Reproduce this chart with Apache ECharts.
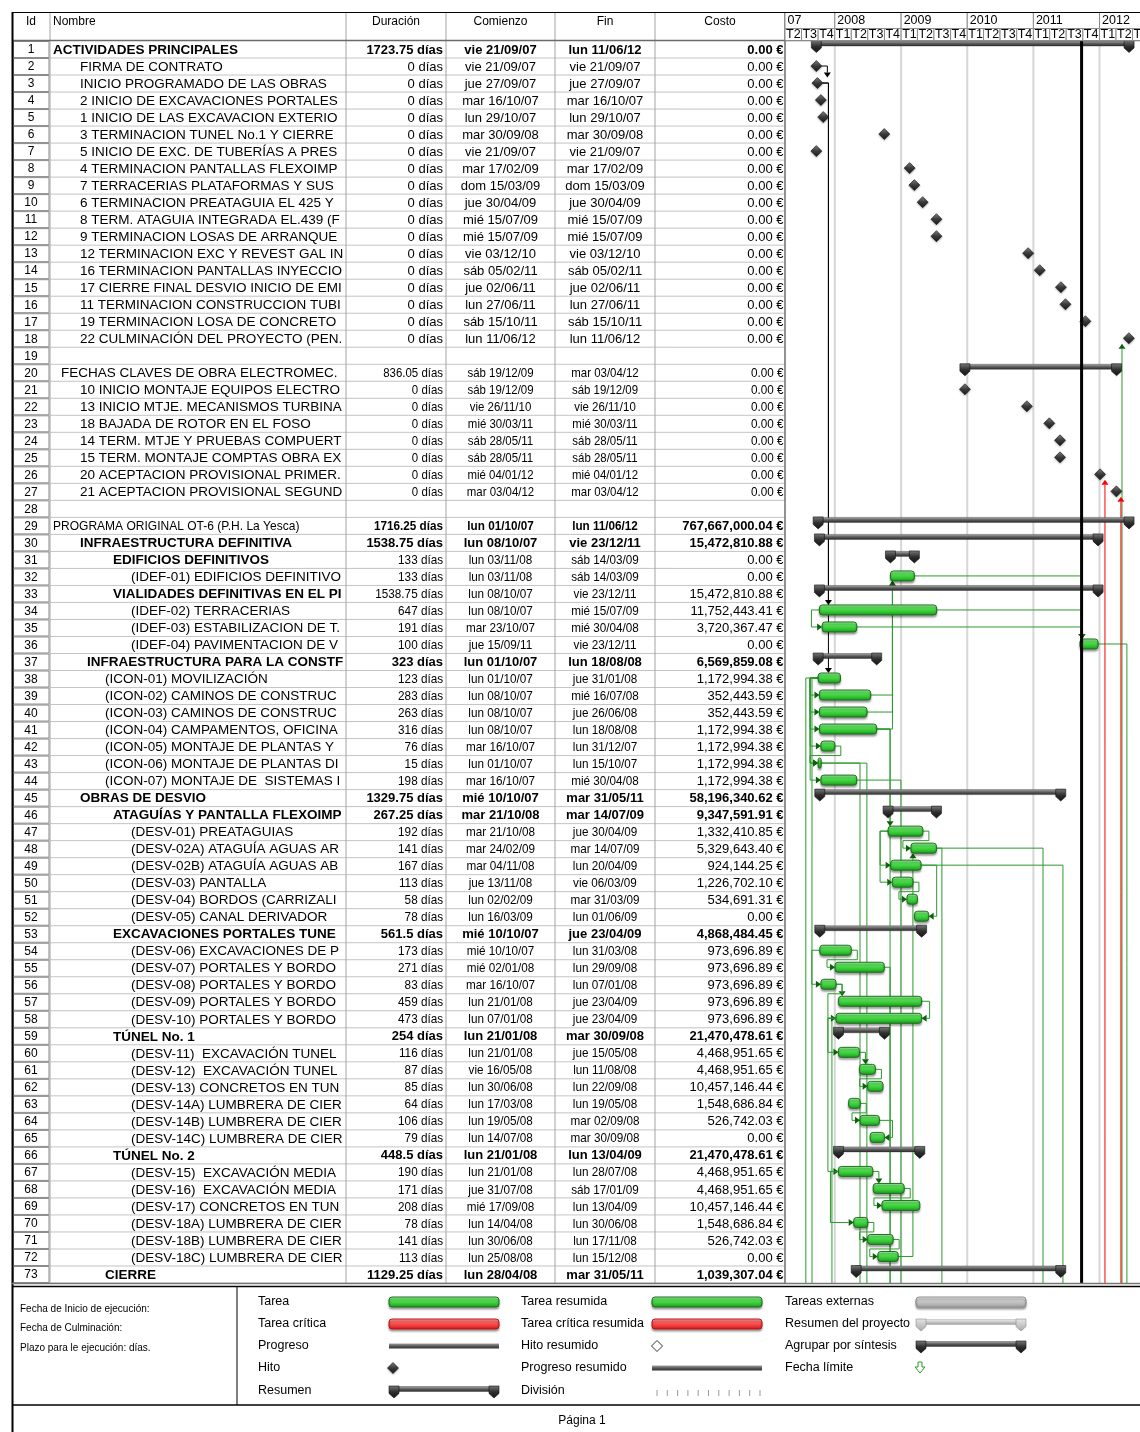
<!DOCTYPE html>
<html><head><meta charset="utf-8">
<script src="https://cdn.jsdelivr.net/npm/echarts@6.0.0/dist/echarts.min.js"></script>
<style>html,body{margin:0;padding:0;background:#fff}#chart{width:1140px;height:1432px}</style>
</head><body><div id="chart"></div>
<script>
// ---------------- DATA ----------------
const ids = [1,2,3,4,5,6,7,8,9,10,11,12,13,14,15,16,17,18,19,20,21,22,23,24,25,26,27,28,29,30,31,32,33,34,35,36,37,38,39,40,41,42,43,44,45,46,47,48,49,50,51,52,53,54,55,56,57,58,59,60,61,62,63,64,65,66,67,68,69,70,71,72,73];
const names = [
'ACTIVIDADES PRINCIPALES','FIRMA DE CONTRATO','INICIO PROGRAMADO DE LAS OBRAS','2 INICIO DE EXCAVACIONES PORTALES','1 INICIO DE LAS EXCAVACION EXTERIOR',
'3 TERMINACION TUNEL No.1 Y CIERRE F','5 INICIO DE EXC. DE TUBERÍAS A PRESIÓN','4 TERMINACION PANTALLAS FLEXOIMP','7 TERRACERIAS PLATAFORMAS Y SUS','6 TERMINACION PREATAGUIA EL 425 Y',
'8 TERM. ATAGUIA INTEGRADA EL.439 (F','9 TERMINACION LOSAS DE ARRANQUE','12 TERMINACION EXC Y REVEST GAL IN','16 TERMINACION PANTALLAS INYECCIO','17 CIERRE FINAL DESVIO INICIO DE EMI',
'11 TERMINACION CONSTRUCCION TUBI','19 TERMINACION LOSA DE CONCRETO','22 CULMINACIÓN DEL PROYECTO (PEN.','','FECHAS CLAVES DE OBRA ELECTROMEC.',
'10 INICIO MONTAJE EQUIPOS ELECTRO','13 INICIO MTJE. MECANISMOS TURBINA','18 BAJADA DE ROTOR EN EL FOSO','14 TERM. MTJE Y PRUEBAS COMPUERT','15 TERM. MONTAJE COMPTAS OBRA EX',
'20 ACEPTACION PROVISIONAL PRIMER.','21 ACEPTACION PROVISIONAL SEGUND','','PROGRAMA ORIGINAL OT-6 (P.H. La Yesca)','INFRAESTRUCTURA DEFINITIVA',
'EDIFICIOS DEFINITIVOS','(IDEF-01) EDIFICIOS DEFINITIVOS','VIALIDADES DEFINITIVAS EN EL PI','(IDEF-02) TERRACERIAS','(IDEF-03) ESTABILIZACION DE T.',
'(IDEF-04) PAVIMENTACION DE V','INFRAESTRUCTURA PARA LA CONSTF','(ICON-01) MOVILIZACIÓN','(ICON-02) CAMINOS DE CONSTRUCC','(ICON-03) CAMINOS DE CONSTRUCC',
'(ICON-04) CAMPAMENTOS, OFICINA','(ICON-05) MONTAJE DE PLANTAS Y','(ICON-06) MONTAJE DE PLANTAS DI','(ICON-07) MONTAJE DE  SISTEMAS I','OBRAS DE DESVIO',
'ATAGUÍAS Y PANTALLA FLEXOIMP','(DESV-01) PREATAGUIAS','(DESV-02A) ATAGUÍA AGUAS AR','(DESV-02B) ATAGUÍA AGUAS AB','(DESV-03) PANTALLA',
'(DESV-04) BORDOS (CARRIZALI','(DESV-05) CANAL DERIVADOR','EXCAVACIONES PORTALES TUNEL','(DESV-06) EXCAVACIONES DE P','(DESV-07) PORTALES Y BORDOS',
'(DESV-08) PORTALES Y BORDOS','(DESV-09) PORTALES Y BORDOS','(DESV-10) PORTALES Y BORDOS','TÚNEL No. 1','(DESV-11)  EXCAVACIÓN TUNEL',
'(DESV-12)  EXCAVACIÓN TUNEL','(DESV-13) CONCRETOS EN TUN','(DESV-14A) LUMBRERA DE CIER','(DESV-14B) LUMBRERA DE CIER','(DESV-14C) LUMBRERA DE CIER',
'TÚNEL No. 2','(DESV-15)  EXCAVACIÓN MEDIA','(DESV-16)  EXCAVACIÓN MEDIA','(DESV-17) CONCRETOS EN TUN','(DESV-18A) LUMBRERA DE CIER',
'(DESV-18B) LUMBRERA DE CIER','(DESV-18C) LUMBRERA DE CIER','CIERRE'];
const durations = [
'1723.75 días','0 días','0 días','0 días','0 días','0 días','0 días','0 días','0 días','0 días',
'0 días','0 días','0 días','0 días','0 días','0 días','0 días','0 días','','836.05 días',
'0 días','0 días','0 días','0 días','0 días','0 días','0 días','','1716.25 días','1538.75 días',
'133 días','133 días','1538.75 días','647 días','191 días','100 días','323 días','123 días','283 días','263 días',
'316 días','76 días','15 días','198 días','1329.75 días','267.25 días','192 días','141 días','167 días','113 días',
'58 días','78 días','561.5 días','173 días','271 días','83 días','459 días','473 días','254 días','116 días',
'87 días','85 días','64 días','106 días','79 días','448.5 días','190 días','171 días','208 días','78 días',
'141 días','113 días','1129.25 días'];
const starts = [
'vie 21/09/07','vie 21/09/07','jue 27/09/07','mar 16/10/07','lun 29/10/07','mar 30/09/08','vie 21/09/07','mar 17/02/09','dom 15/03/09','jue 30/04/09',
'mié 15/07/09','mié 15/07/09','vie 03/12/10','sáb 05/02/11','jue 02/06/11','lun 27/06/11','sáb 15/10/11','lun 11/06/12','','sáb 19/12/09',
'sáb 19/12/09','vie 26/11/10','mié 30/03/11','sáb 28/05/11','sáb 28/05/11','mié 04/01/12','mar 03/04/12','','lun 01/10/07','lun 08/10/07',
'lun 03/11/08','lun 03/11/08','lun 08/10/07','lun 08/10/07','mar 23/10/07','jue 15/09/11','lun 01/10/07','lun 01/10/07','lun 08/10/07','lun 08/10/07',
'lun 08/10/07','mar 16/10/07','lun 01/10/07','mar 16/10/07','mié 10/10/07','mar 21/10/08','mar 21/10/08','mar 24/02/09','mar 04/11/08','jue 13/11/08',
'lun 02/02/09','lun 16/03/09','mié 10/10/07','mié 10/10/07','mié 02/01/08','mar 16/10/07','lun 21/01/08','lun 07/01/08','lun 21/01/08','lun 21/01/08',
'vie 16/05/08','lun 30/06/08','lun 17/03/08','lun 19/05/08','lun 14/07/08','lun 21/01/08','lun 21/01/08','jue 31/07/08','mié 17/09/08','lun 14/04/08',
'lun 30/06/08','lun 25/08/08','lun 28/04/08'];
const ends = [
'lun 11/06/12','vie 21/09/07','jue 27/09/07','mar 16/10/07','lun 29/10/07','mar 30/09/08','vie 21/09/07','mar 17/02/09','dom 15/03/09','jue 30/04/09',
'mié 15/07/09','mié 15/07/09','vie 03/12/10','sáb 05/02/11','jue 02/06/11','lun 27/06/11','sáb 15/10/11','lun 11/06/12','','mar 03/04/12',
'sáb 19/12/09','vie 26/11/10','mié 30/03/11','sáb 28/05/11','sáb 28/05/11','mié 04/01/12','mar 03/04/12','','lun 11/06/12','vie 23/12/11',
'sáb 14/03/09','sáb 14/03/09','vie 23/12/11','mié 15/07/09','mié 30/04/08','vie 23/12/11','lun 18/08/08','jue 31/01/08','mié 16/07/08','jue 26/06/08',
'lun 18/08/08','lun 31/12/07','lun 15/10/07','mié 30/04/08','mar 31/05/11','mar 14/07/09','jue 30/04/09','mar 14/07/09','lun 20/04/09','vie 06/03/09',
'mar 31/03/09','lun 01/06/09','jue 23/04/09','lun 31/03/08','lun 29/09/08','lun 07/01/08','jue 23/04/09','jue 23/04/09','mar 30/09/08','jue 15/05/08',
'lun 11/08/08','lun 22/09/08','lun 19/05/08','mar 02/09/08','mar 30/09/08','lun 13/04/09','lun 28/07/08','sáb 17/01/09','lun 13/04/09','lun 30/06/08',
'lun 17/11/08','lun 15/12/08','mar 31/05/11'];
const costs = [
'0.00 €','0.00 €','0.00 €','0.00 €','0.00 €','0.00 €','0.00 €','0.00 €','0.00 €','0.00 €',
'0.00 €','0.00 €','0.00 €','0.00 €','0.00 €','0.00 €','0.00 €','0.00 €','','0.00 €',
'0.00 €','0.00 €','0.00 €','0.00 €','0.00 €','0.00 €','0.00 €','','767,667,000.04 €','15,472,810.88 €',
'0.00 €','0.00 €','15,472,810.88 €','11,752,443.41 €','3,720,367.47 €','0.00 €','6,569,859.08 €','1,172,994.38 €','352,443.59 €','352,443.59 €',
'1,172,994.38 €','1,172,994.38 €','1,172,994.38 €','1,172,994.38 €','58,196,340.62 €','9,347,591.91 €','1,332,410.85 €','5,329,643.40 €','924,144.25 €','1,226,702.10 €',
'534,691.31 €','0.00 €','4,868,484.45 €','973,696.89 €','973,696.89 €','973,696.89 €','973,696.89 €','973,696.89 €','21,470,478.61 €','4,468,951.65 €',
'4,468,951.65 €','10,457,146.44 €','1,548,686.84 €','526,742.03 €','0.00 €','21,470,478.61 €','4,468,951.65 €','4,468,951.65 €','10,457,146.44 €','1,548,686.84 €',
'526,742.03 €','0.00 €','1,039,307.04 €'];
// S = summary, M = milestone, T = task, '' = empty row
const kinds = [
'S','M','M','M','M','M','M','M','M','M',
'M','M','M','M','M','M','M','M','','S',
'M','M','M','M','M','M','M','','S','S',
'S','T','S','T','T','T','S','T','T','T',
'T','T','T','T','S','S','T','T','T','T',
'T','T','S','T','T','T','T','T','S','T',
'T','T','T','T','T','S','T','T','T','T',
'T','T','S'];
// outline level code (mapped to an indentation in the renderer)
const levels = [
0,2,2,2,2,2,2,2,2,2,
2,2,2,2,2,2,2,2,2,1,
2,2,2,2,2,2,2,2,0,2,
5,6,5,6,6,6,3,4,4,4,
4,4,4,4,2,5,6,6,6,6,
6,6,5,6,6,6,6,6,5,6,
6,6,6,6,6,5,6,6,6,6,
6,6,4];
// text-style code per row
const tstyle = [
'A','B','B','B','B','B','B','B','B','B',
'B','B','B','B','B','B','B','B','B','C',
'C','C','C','C','C','C','C','C','D','E',
'F','G','F','G','G','G','E','G','G','G',
'G','G','G','G','E','E','G','G','G','G',
'G','G','E','G','G','G','G','G','E','G',
'G','G','G','G','G','E','G','G','G','G',
'G','G','E'];
const headers = ['Id','Nombre','Duración','Comienzo','Fin','Costo'];
const years = ['07','2008','2009','2010','2011','2012'];
const quarterLabels = ['T1','T2','T3','T4'];
const statusDate = '2011-09-24';
// dependency links [predecessor id, successor id, type]
const links = [
[2,3,'FS'],[3,34,'FS'],[3,38,'FS'],
[34,35,'SS'],[39,32,'FS'],[40,32,'FS'],[41,32,'FS'],[41,47,'FS'],
[32,36,'FS'],[34,36,'FS'],[35,36,'FS'],
[38,39,'SS'],[38,40,'SS'],[38,41,'SS'],[38,42,'SS'],[38,43,'SS'],[38,44,'SS'],[42,43,'FS'],
[47,48,'FS'],[47,49,'SS'],[47,50,'SS'],[50,51,'FS'],[49,52,'FF'],[72,48,'FS'],
[54,55,'FS'],[54,56,'SS'],[56,57,'FS'],[56,58,'FS'],[57,58,'FF'],
[58,60,'SS'],[60,61,'FS'],[61,62,'FS'],[63,64,'FS'],[64,65,'FF'],
[58,67,'SS'],[67,68,'FS'],[68,69,'FS'],[67,70,'SS'],[70,71,'FS'],[71,72,'FS']];
// links leaving the page downwards [predecessor id, date of the vertical, from End/Start]
const offDown = [
[36,'2012-05-31','E'],[48,'2009-08-14','E'],[48,'2011-02-23','E'],[49,'2011-06-13','E'],
[44,'2008-12-31','E'],[41,'2008-11-01','E'],[55,'2008-11-01','E'],[43,'2008-05-19','E'],[43,'2008-06-26','E'],
[38,'2007-07-25','S'],[38,'2007-08-28','S'],[58,'2007-12-16','S']];
// links arriving from below the page [successor id, date of the vertical, critical?]
const offUp = [[18,'2012-05-04',false],[26,'2012-01-31',true],[27,'2012-04-28',true]];
const legendCols = [
['Tarea','Tarea crítica','Progreso','Hito','Resumen'],
['Tarea resumida','Tarea crítica resumida','Hito resumido','Progreso resumido','División'],
['Tareas externas','Resumen del proyecto','Agrupar por síntesis','Fecha límite']];
const legendNotes = ['Fecha de Inicio de ejecución:','Fecha de Culminación:','Plazo para le ejecución: días.'];
const footer = 'Página 1';

// ---------------- HELPERS ----------------
const FONT = '"Liberation Sans", Arial, Helvetica, sans-serif';
const DAY = 86400000;
const parseD = s => { const m = /(\d\d)\/(\d\d)\/(\d\d)/.exec(s || ''); return m ? Date.UTC(2000 + +m[3], +m[2] - 1, +m[1]) : null; };
const iso = s => Date.parse(s + 'T00:00:00Z');
const startTs = starts.map(parseD), endTs = ends.map(parseD);
const T0 = Date.UTC(2007, 3, 1);
const PXDAY = 0.18118, GANTT_W = 355;
const T1 = T0 + GANTT_W / PXDAY * DAY;
const rowCats = ids.map(String);
const tableCols = [0, 38, 334, 434, 543, 643, 773];
const levelX = [41, 49, 68, 75, 93, 101, 119];
const TS = {
  A:{nb:1,ns:1,vb:1,vs:1,cb:1,cs:1}, B:{nb:0,ns:1,vb:0,vs:1,cb:0,cs:1},
  C:{nb:0,ns:1,vb:0,vs:0.88,cb:0,cs:0.9}, D:{nb:0,ns:0.89,vb:1,vs:0.9,cb:1,cs:1},
  E:{nb:1,ns:1,vb:1,vs:1,cb:1,cs:1}, F:{nb:1,ns:1,vb:0,vs:0.9,cb:0,cs:1},
  G:{nb:0,ns:1,vb:0,vs:0.9,cb:0,cs:1}};
const LG = (stops) => new echarts.graphic.LinearGradient(0,0,0,1, stops.map((c,i)=>({offset:i/(stops.length-1), color:c})));
const GREEN = () => LG(['#a6f5a6','#55e055','#33c733','#1c8f1c']);
const RED = () => LG(['#ffb0b0','#ff6060','#f03a3a','#c01818']);
const LINK_G = '#2c9a2c', ARROW_G = '#0c620c';

function txt(x, y, text, align, bold, scale, size, width) {
  const st = {text:text, x:0, y:0, align:align, verticalAlign:'middle', fill:'#000', font:(bold?'bold ':'') + size + 'px ' + FONT};
  if (width) { st.width = width / scale; st.overflow = 'truncate'; st.ellipsis = ''; }
  return {type:'text', x:x, y:y, scaleX:scale, style:st, silent:true};
}
function taskEls(xs, xe, yc, fill, stroke) {
  return [{type:'rect', shape:{x:xs, y:yc-6, width:Math.max(xe-xs,3), height:10, r:3},
    style:{fill:fill, stroke:stroke, lineWidth:1, shadowBlur:2, shadowOffsetY:2, shadowColor:'rgba(0,0,0,0.35)'}}];
}
function diamondEl(x, yc, hollow) {
  return {type:'polygon', shape:{points:[[x,yc-6],[x+5.5,yc-0.5],[x,yc+5],[x-5.5,yc-0.5]]},
    style: hollow ? {fill:'#fff', stroke:'#333', lineWidth:1} :
      {fill:LG(['#8a8a8a','#3a3a3a','#1a1a1a']), stroke:'#111', lineWidth:0.6, shadowBlur:2, shadowOffsetY:1, shadowColor:'rgba(0,0,0,0.3)'}};
}
function summaryEls(xs, xe, yc, light) {
  const barFill = light ? LG(['#f0f0f0','#c8c8c8','#a0a0a0']) : LG(['#b0b0b0','#5c5c5c','#2a2a2a']);
  const capFill = light ? LG(['#e6e6e6','#a8a8a8']) : LG(['#7a7a7a','#2e2e2e','#141414']);
  const cap = x => ({type:'polygon', shape:{points:[[x-5,yc-9],[x+5,yc-9],[x+5,yc-1.5],[x,yc+3],[x-5,yc-1.5]]},
    style:{fill:capFill, stroke:light?'#8a8a8a':'#111', lineWidth:0.6}});
  return [{type:'rect', shape:{x:xs, y:yc-8.5, width:Math.max(xe-xs,0), height:5}, style:{fill:barFill, stroke:light?'#999':'#333', lineWidth:0.4}}, cap(xs), cap(xe)];
}
function arrow(dir, x, y, fill) {
  let p;
  if (dir === 'd') p = [[x-3.5,y-5],[x+3.5,y-5],[x,y]];
  else if (dir === 'u') p = [[x-3.5,y+5],[x+3.5,y+5],[x,y]];
  else if (dir === 'r') p = [[x-5,y-3.5],[x-5,y+3.5],[x,y]];
  else p = [[x+5,y-3.5],[x+5,y+3.5],[x,y]];
  return {type:'polygon', shape:{points:p}, style:{fill:fill}};
}
function pl(points, stroke) { return {type:'polyline', shape:{points:points}, style:{stroke:stroke, lineWidth:1, fill:null}}; }

function geo(api, r) {
  const k = kinds[r];
  const p0 = api.coord([startTs[r], r]);
  const yc = p0[1];
  if (k === 'M') return {k:k, xs:p0[0]-5, xe:p0[0]+5, xc:p0[0], y:yc-0.5, top:yc-6, bot:yc+5, yc:yc};
  const x1 = api.coord([endTs[r] + DAY, r])[0];
  if (k === 'S') return {k:k, xs:p0[0], xe:x1, xc:p0[0], y:yc-6, top:yc-9, bot:yc+3, yc:yc};
  return {k:k, xs:p0[0], xe:x1, xc:p0[0], y:yc-1, top:yc-6, bot:yc+4, yc:yc};
}

// ---------------- RENDERERS ----------------
function renderYearLines(params, api) {
  const cs = params.coordSys; const x = api.coord([api.value(0), 0])[0];
  return {type:'line', shape:{x1:x, y1:cs.y, x2:x, y2:cs.y+cs.height}, style:{stroke:'#d6d6d6', lineWidth:2}};
}
function renderStatus(params, api) {
  const cs = params.coordSys; const x = api.coord([api.value(0), 0])[0];
  return {type:'line', shape:{x1:x, y1:cs.y, x2:x, y2:cs.y+cs.height}, style:{stroke:'#000', lineWidth:3}};
}
function renderBar(params, api) {
  const i = api.value(2), k = kinds[i];
  const p0 = api.coord([api.value(0), i]), p1 = api.coord([api.value(1), i]);
  const yc = p0[1];
  if (k === 'T') return {type:'group', children:taskEls(p0[0], p1[0], yc, GREEN(), '#1d6e1d')};
  if (k === 'M') return diamondEl(p0[0], yc, false);
  return {type:'group', children:summaryEls(p0[0], p1[0], yc, false)};
}
function renderLink(params, api) {
  const L = links[api.value(2)];
  const pr = L[0]-1, sr = L[1]-1, type = L[2];
  const P = geo(api, pr), S = geo(api, sr);
  const h = api.size([0,1])[1];
  const line = P.k === 'M' ? '#000' : LINK_G, af = P.k === 'M' ? '#000' : ARROW_G;
  const below = sr > pr;
  const ch = [];
  if (type === 'SS') {
    const xl = Math.min(P.xs, S.xs) - 8;
    ch.push(pl([[P.xs,P.y],[xl,P.y],[xl,S.y],[S.xs-5,S.y]], line)); ch.push(arrow('r', S.xs, S.y, af));
  } else if (type === 'FF') {
    const xr = Math.max(P.xe, S.xe) + 8;
    ch.push(pl([[P.xe,P.y],[xr,P.y],[xr,S.y],[S.xe+5,S.y]], line)); ch.push(arrow('l', S.xe, S.y, af));
  } else {
    const after = P.k === 'M' ? startTs[sr] >= startTs[pr] : startTs[sr] > endTs[pr];
    if (after) {
      const xv = Math.max(P.xe + 6, (S.k === 'M' ? S.xc : S.xs) + 2);
      if (below) { ch.push(pl([[P.xe,P.y],[xv,P.y],[xv,S.top-5]], line)); ch.push(arrow('d', xv, S.top, af)); }
      else { ch.push(pl([[P.xe,P.y],[xv,P.y],[xv,S.bot+5]], line)); ch.push(arrow('u', xv, S.bot, af)); }
    } else {
      const xr = P.xe + 6, yb = below ? P.yc + h/2 : P.yc - h/2, xl = S.xs - 8;
      ch.push(pl([[P.xe,P.y],[xr,P.y],[xr,yb],[xl,yb],[xl,S.y],[S.xs-5,S.y]], line)); ch.push(arrow('r', S.xs, S.y, af));
    }
  }
  return {type:'group', children:ch};
}
function renderOffDown(params, api) {
  const L = offDown[api.value(2)]; const r = L[0]-1;
  const P = geo(api, r); const cs = params.coordSys;
  const xd = api.coord([iso(L[1]), r])[0];
  const x0 = L[2] === 'S' ? P.xs : P.xe;
  return pl([[x0,P.y],[xd,P.y],[xd,cs.y+cs.height]], LINK_G);
}
function renderOffUp(params, api) {
  const L = offUp[api.value(2)]; const r = L[0]-1;
  const S = geo(api, r); const cs = params.coordSys;
  const xd = api.coord([iso(L[1]), r])[0];
  const c = L[2] ? '#ff0000' : LINK_G, a = L[2] ? '#ff0000' : ARROW_G;
  return {type:'group', children:[pl([[xd,cs.y+cs.height],[xd,S.bot+5]], c), arrow('u', xd, S.bot, a)]};
}
function renderTimeHeader(params, api) {
  const cs = params.coordSys;
  const kind = api.value(2), idx = api.value(3);
  let x0 = api.coord([api.value(0), 0])[0], x1 = api.coord([api.value(1), 0])[0];
  x0 = Math.max(x0, cs.x); x1 = Math.min(x1, cs.x + cs.width + 20);
  const ch = [];
  if (kind === 0) {
    ch.push({type:'rect', shape:{x:x0, y:12.5, width:x1-x0, height:16}, style:{fill:'#fff', stroke:'#8c8c8c', lineWidth:1}});
    ch.push(txt(x0+2.5, 21, years[idx], 'left', false, 1, 12.5));
  } else {
    ch.push({type:'rect', shape:{x:x0, y:28.5, width:x1-x0, height:12}, style:{fill:'#fff', stroke:'#8c8c8c', lineWidth:1}});
    ch.push(txt(x0+1, 35, quarterLabels[idx], 'left', false, 1, 12.5));
  }
  return {type:'group', children:ch};
}
function renderRow(params, api) {
  const i = api.value(1);
  const yc = api.coord([0, i])[1] + 0.5;
  const h = api.size([0,1])[1];
  const X = u => api.coord([u, i])[0];
  const top = yc - 0.5 - h/2, bot = yc - 0.5 + h/2;
  const s = TS[tstyle[i]];
  const ch = [];
  ch.push({type:'rect', shape:{x:X(0)+1.5, y:top+0.5, width:X(38)-X(0)-2.5, height:h-1}, style:{fill:'#fff', stroke:'#8a8a8a', lineWidth:1}});
  ch.push(txt((X(0)+X(38))/2, yc, String(ids[i]), 'center', false, 1, 12));
  ch.push({type:'line', shape:{x1:X(38), y1:bot, x2:X(773), y2:bot}, style:{stroke:'#c4c4c4', lineWidth:1}});
  if (names[i]) { const nx = X(levelX[levels[i]]); ch.push(txt(nx, yc, names[i], 'left', s.nb, s.ns, 13.5, X(334) - nx - 1)); }
  if (durations[i]) ch.push(txt(X(434)-3, yc, durations[i], 'right', s.vb, s.vs, 13));
  if (starts[i]) ch.push(txt((X(434)+X(543))/2, yc, starts[i], 'center', s.vb, s.vs, 13));
  if (ends[i]) ch.push(txt((X(543)+X(643))/2, yc, ends[i], 'center', s.vb, s.vs, 13));
  if (costs[i]) ch.push(txt(X(773)-1.5, yc, costs[i], 'right', s.cb, s.cs, 13));
  return {type:'group', children:ch};
}
function renderFrame(params, api) {
  const cs = params.coordSys;
  const X = u => api.coord([u, 0])[0];
  const ch = [];
  const hy = cs.y - 19;
  tableCols.slice(1).forEach((u, j) => {
    const last = j === tableCols.length - 2;
    ch.push({type:'line', shape:{x1:X(u), y1:12, x2:X(u), y2:cs.y+cs.height}, style:{stroke:last?'#6e6e6e':'#a4a4a4', lineWidth:last?1.5:1}});
  });
  ch.push({type:'line', shape:{x1:X(0), y1:cs.y-0.5, x2:1140, y2:cs.y-0.5}, style:{stroke:'#6a6a6a', lineWidth:1.5}});
  ch.push(txt((X(0)+X(38))/2, hy, headers[0], 'center', false, 1, 12));
  ch.push(txt(X(41), hy, headers[1], 'left', false, 1, 12));
  for (let c = 2; c < 6; c++) ch.push(txt((X(tableCols[c])+X(tableCols[c+1]))/2, hy, headers[c], 'center', false, 1, 12));
  return {type:'group', children:ch};
}

// ---------------- SERIES DATA ----------------
const barData = [];
ids.forEach((id, i) => { if (kinds[i]) barData.push([startTs[i], kinds[i] === 'M' ? startTs[i] : endTs[i] + DAY, i]); });
const headerData = [];
years.forEach((y, yi) => {
  const yr = y.length === 2 ? 2000 + +y : +y;
  headerData.push([Math.max(Date.UTC(yr,0,1), T0), Date.UTC(yr+1,0,1), 0, yi, 0]);
  quarterLabels.forEach((q, qi) => {
    const a = Date.UTC(yr, qi*3, 1), b = Date.UTC(yr, qi*3+3, 1);
    if (b > T0 && a < T1) headerData.push([a, b, 1, qi, 0]);
  });
});
const yearLineData = years.slice(1).map(y => [Date.UTC(+y,0,1), 0]);

// ---------------- LEGEND / PAGE GRAPHICS ----------------
const G = [];
const gl = (x1,y1,x2,y2,stroke,w) => G.push({type:'line', shape:{x1,y1,x2,y2}, style:{stroke, lineWidth:w}, silent:true, z:100});
const gt = (x,y,t,size,align) => G.push({type:'text', x:x, y:y, style:{text:t, font:size+'px '+FONT, fill:'#000', align:align||'left', verticalAlign:'middle'}, silent:true, z:100});
gl(12,12.5,1140,12.5,'#000',1);
gl(12.5,12,12.5,1432,'#000',2);
gl(12,1283.5,1140,1283.5,'#777',1.5);
gl(12,1286.5,1140,1286.5,'#000',1.5);
gl(12,1405,1140,1405,'#000',1.5);
gl(237,1286,237,1405,'#000',1);
legendNotes.forEach((t,j) => gt(20, 1309 + j*19.5, t, 10));
const rowsY = [1302, 1324, 1346, 1368, 1391];
const colLX = [258, 521, 785], colSX = [389, 652, 916];
legendCols.forEach((col, c) => col.forEach((t, j) => gt(colLX[c], rowsY[j], t, 12.5)));
const addGroup = (children) => G.push({type:'group', children:children, silent:true, z:100});
addGroup(taskEls(389, 499, rowsY[0]+1, GREEN(), '#1d6e1d'));
addGroup(taskEls(389, 499, rowsY[1]+1, RED(), '#c01010'));
addGroup([{type:'rect', shape:{x:389, y:rowsY[2]-2.5, width:110, height:5}, style:{fill:LG(['#a0a0a0','#5a5a5a','#303030'])}}]);
addGroup([diamondEl(393, rowsY[3]+0.5, false)]);
addGroup(summaryEls(394, 494, rowsY[4]+4, false));
addGroup(taskEls(652, 762, rowsY[0]+1, GREEN(), '#1d6e1d'));
addGroup(taskEls(652, 762, rowsY[1]+1, RED(), '#c01010'));
addGroup([diamondEl(657, rowsY[2]+0.5, true)]);
addGroup([{type:'rect', shape:{x:652, y:rowsY[3]-2.5, width:110, height:5}, style:{fill:LG(['#a0a0a0','#5a5a5a','#303030'])}}]);
const ticks = [];
for (let k = 0; k < 11; k++) ticks.push({type:'line', shape:{x1:657+k*10.3, y1:rowsY[4]-1, x2:657+k*10.3, y2:rowsY[4]+5}, style:{stroke:'#999', lineWidth:1}});
addGroup(ticks);
addGroup(taskEls(916, 1026, rowsY[0]+1, LG(['#ececec','#cfcfcf','#b8b8b8','#9c9c9c']), '#8e8e8e'));
addGroup(summaryEls(921, 1021, rowsY[1]+4, true));
addGroup(summaryEls(921, 1021, rowsY[2]+4, false));
addGroup([{type:'polygon', shape:{points:[[918,rowsY[3]-6],[922,rowsY[3]-6],[922,rowsY[3]-1],[925,rowsY[3]-1],[920,rowsY[3]+5],[915,rowsY[3]-1],[918,rowsY[3]-1]]}, style:{fill:'#fff', stroke:'#2c9a2c', lineWidth:1}}]);
gt(582, 1421, footer, 12, 'center');

// ---------------- CHART ----------------
const chart = echarts.init(document.getElementById('chart'), null, {renderer:'canvas'});
chart.setOption({
  animation:false,
  backgroundColor:'#fff',
  grid:[{left:785, top:41, width:GANTT_W, height:1242}, {left:12, top:41, width:773, height:1242}],
  xAxis:[{type:'time', gridIndex:0, min:T0, max:T1, show:false},
         {type:'value', gridIndex:1, min:0, max:773, show:false}],
  yAxis:[{type:'category', gridIndex:0, data:rowCats, inverse:true, show:false},
         {type:'category', gridIndex:1, data:rowCats, inverse:true, show:false}],
  graphic:G,
  series:[
    {type:'custom', name:'years', xAxisIndex:0, yAxisIndex:0, renderItem:renderYearLines, data:yearLineData, encode:{x:0,y:1}, z:1, silent:true},
    {type:'custom', name:'offDown', xAxisIndex:0, yAxisIndex:0, renderItem:renderOffDown, data:offDown.map((l,j)=>[iso(l[1]), l[0]-1, j]), encode:{x:0,y:1}, z:2, silent:true, clip:false},
    {type:'custom', name:'links', xAxisIndex:0, yAxisIndex:0, renderItem:renderLink, data:links.map((l,j)=>[startTs[l[0]-1], l[0]-1, j]), encode:{x:0,y:1}, z:2, silent:true, clip:false},
    {type:'custom', name:'offUp', xAxisIndex:0, yAxisIndex:0, renderItem:renderOffUp, data:offUp.map((l,j)=>[iso(l[1]), l[0]-1, j]), encode:{x:0,y:1}, z:2, silent:true, clip:false},
    {type:'custom', name:'bars', xAxisIndex:0, yAxisIndex:0, renderItem:renderBar, data:barData, encode:{x:[0,1],y:2}, z:3, silent:true, clip:false},
    {type:'custom', name:'status', xAxisIndex:0, yAxisIndex:0, renderItem:renderStatus, data:[[iso(statusDate),0]], encode:{x:0,y:1}, z:4, silent:true, clip:false},
    {type:'custom', name:'timeHeader', xAxisIndex:0, yAxisIndex:0, renderItem:renderTimeHeader, data:headerData, encode:{x:[0,1],y:4}, z:5, silent:true, clip:false},
    {type:'custom', name:'rows', xAxisIndex:1, yAxisIndex:1, renderItem:renderRow, data:ids.map((id,i)=>[0,i]), encode:{x:0,y:1}, z:3, silent:true, clip:false},
    {type:'custom', name:'frame', xAxisIndex:1, yAxisIndex:1, renderItem:renderFrame, data:[[0,0]], encode:{x:0,y:1}, z:4, silent:true, clip:false}
  ]
});
</script></body></html>
